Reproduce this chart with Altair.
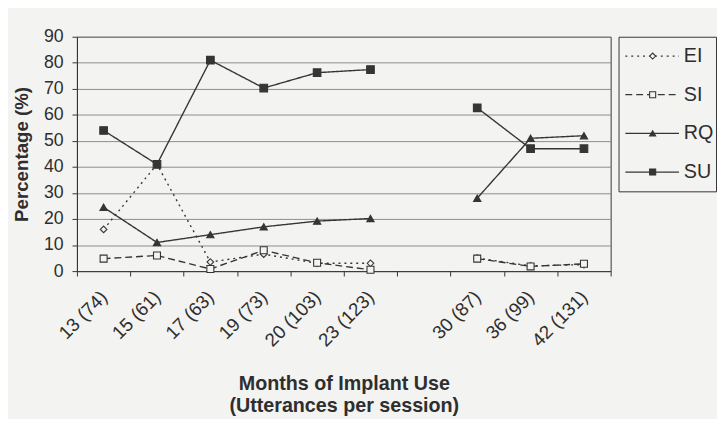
import altair as alt
import pandas as pd

# ---- data ----
x_domain = ["13 (74)", "15 (61)", "17 (63)", "19 (73)", "20 (103)", "23 (123)", " ",
            "30 (87)", "36 (99)", "42 (131)"]
months = ["13 (74)", "15 (61)", "17 (63)", "19 (73)", "20 (103)", "23 (123)",
          "30 (87)", "36 (99)", "42 (131)"]
segments = [1, 1, 1, 1, 1, 1, 2, 2, 2]
EI = [16, 41, 3.5, 6.5, 3, 3, 5, 2, 2.5]
SI = [4.8, 6, 0.8, 8, 3.2, 0.5, 4.8, 1.8, 2.8]
RQ = [24.5, 11, 14, 17, 19.2, 20.2, 28, 51, 52]
SU = [54, 41, 81, 70.3, 76.2, 77.4, 62.7, 47, 47]
series_order = ["EI", "SI", "RQ", "SU"]
y_ticks = [0, 10, 20, 30, 40, 50, 60, 70, 80, 90]

BG = "#f3f3f1"
INK = "#353535"
TXT = "#2e2e2e"
FONT = "Liberation Sans"

rows = []
for name, vals in zip(series_order, [EI, SI, RQ, SU]):
    for i, (c, seg, v) in enumerate(zip(months, segments, vals)):
        rows.append({"series": name, "cat": c, "seg": seg, "idx": i, "value": v})
df = pd.DataFrame(rows)

dash_scale = alt.Scale(domain=series_order, range=[[2, 4], [7, 4], [1, 0], [1, 0]])
shape_scale = alt.Scale(domain=series_order, range=["diamond", "square", "triangle-up", "square"])
fill_scale = alt.Scale(domain=series_order, range=[BG, BG, INK, INK])
size_scale = alt.Scale(domain=series_order, range=[45, 60, 60, 75])

x_enc = alt.X(
    "cat:N",
    sort=x_domain,
    scale=alt.Scale(domain=x_domain, type="band", paddingInner=0, paddingOuter=0),
    axis=alt.Axis(
        title=["Months of Implant Use", "(Utterances per session)"],
        titleFontSize=20, titleFontWeight="bold", titleColor=TXT, titleFont=FONT,
        titlePadding=24, titleLineHeight=22,
        labelAngle=315, labelAlign="right", labelBaseline="middle",
        labelFontSize=19, labelFont=FONT, labelColor=TXT, labelPadding=18,
        tickBand="extent", tickSize=5, tickColor=INK, domainColor=INK,
        grid=False,
    ),
)
y_enc = alt.Y(
    "value:Q",
    scale=alt.Scale(domain=[0, 90], nice=False),
    axis=alt.Axis(
        values=y_ticks, title="Percentage (%)",
        titleFontSize=19, titleFontWeight="bold", titleColor=TXT, titleFont=FONT,
        titlePadding=12,
        labelFontSize=18, labelFont=FONT, labelColor=TXT, labelPadding=9,
        tickSize=5, tickColor=INK, domainColor=INK,
        grid=True, gridColor="#8c8c8c", gridWidth=1,
    ),
)

lines = alt.Chart(df).mark_line(color=INK, strokeWidth=1.4).encode(
    x=x_enc, y=y_enc,
    strokeDash=alt.StrokeDash("series:N", scale=dash_scale, legend=None),
    detail="seg:N",
    order=alt.Order("idx:Q"),
)
points = alt.Chart(df).mark_point(filled=True, opacity=1, stroke=INK, strokeWidth=1.1).encode(
    x=x_enc, y=y_enc,
    shape=alt.Shape("series:N", scale=shape_scale, legend=None),
    fill=alt.Fill("series:N", scale=fill_scale, legend=None),
    size=alt.Size("series:N", scale=size_scale, legend=None),
)
main = alt.layer(lines, points).properties(width=542, height=238)

# ---- hand-made legend panel, drawn from the series list ----
leg_df = pd.DataFrame({"series": series_order})
ly = alt.Y("series:N", sort=series_order,
           scale=alt.Scale(domain=series_order, type="point", padding=0.5), axis=None)
lx_scale = alt.Scale(domain=[0, 1])
leg_line = alt.Chart(leg_df).mark_rule(color=INK, strokeWidth=1.3).encode(
    x=alt.XDatum(0.07, scale=lx_scale, axis=None),
    x2=alt.X2Datum(0.62),
    y=ly,
    strokeDash=alt.StrokeDash("series:N", scale=dash_scale, legend=None),
)
leg_pts = alt.Chart(leg_df).mark_point(filled=True, opacity=1, stroke=INK, strokeWidth=1.1, size=38).encode(
    x=alt.XDatum(0.35, scale=lx_scale, axis=None),
    y=ly,
    shape=alt.Shape("series:N", scale=shape_scale, legend=None),
    fill=alt.Fill("series:N", scale=fill_scale, legend=None),
)
leg_txt = alt.Chart(leg_df).mark_text(align="left", baseline="middle", fontSize=20, font=FONT, color=TXT).encode(
    x=alt.XDatum(0.67, scale=lx_scale, axis=None),
    y=ly,
    text="series:N",
)
legend_panel = alt.layer(leg_line, leg_pts, leg_txt).properties(width=99, height=157)

chart = alt.hconcat(main, legend_panel, spacing=6).properties(
    padding={"left": 4, "top": 16, "right": 0, "bottom": 0},
    background=BG,
).configure_view(stroke=INK, strokeWidth=1)

chart.save("out.html", embed_options={"renderer": "svg", "actions": False})
